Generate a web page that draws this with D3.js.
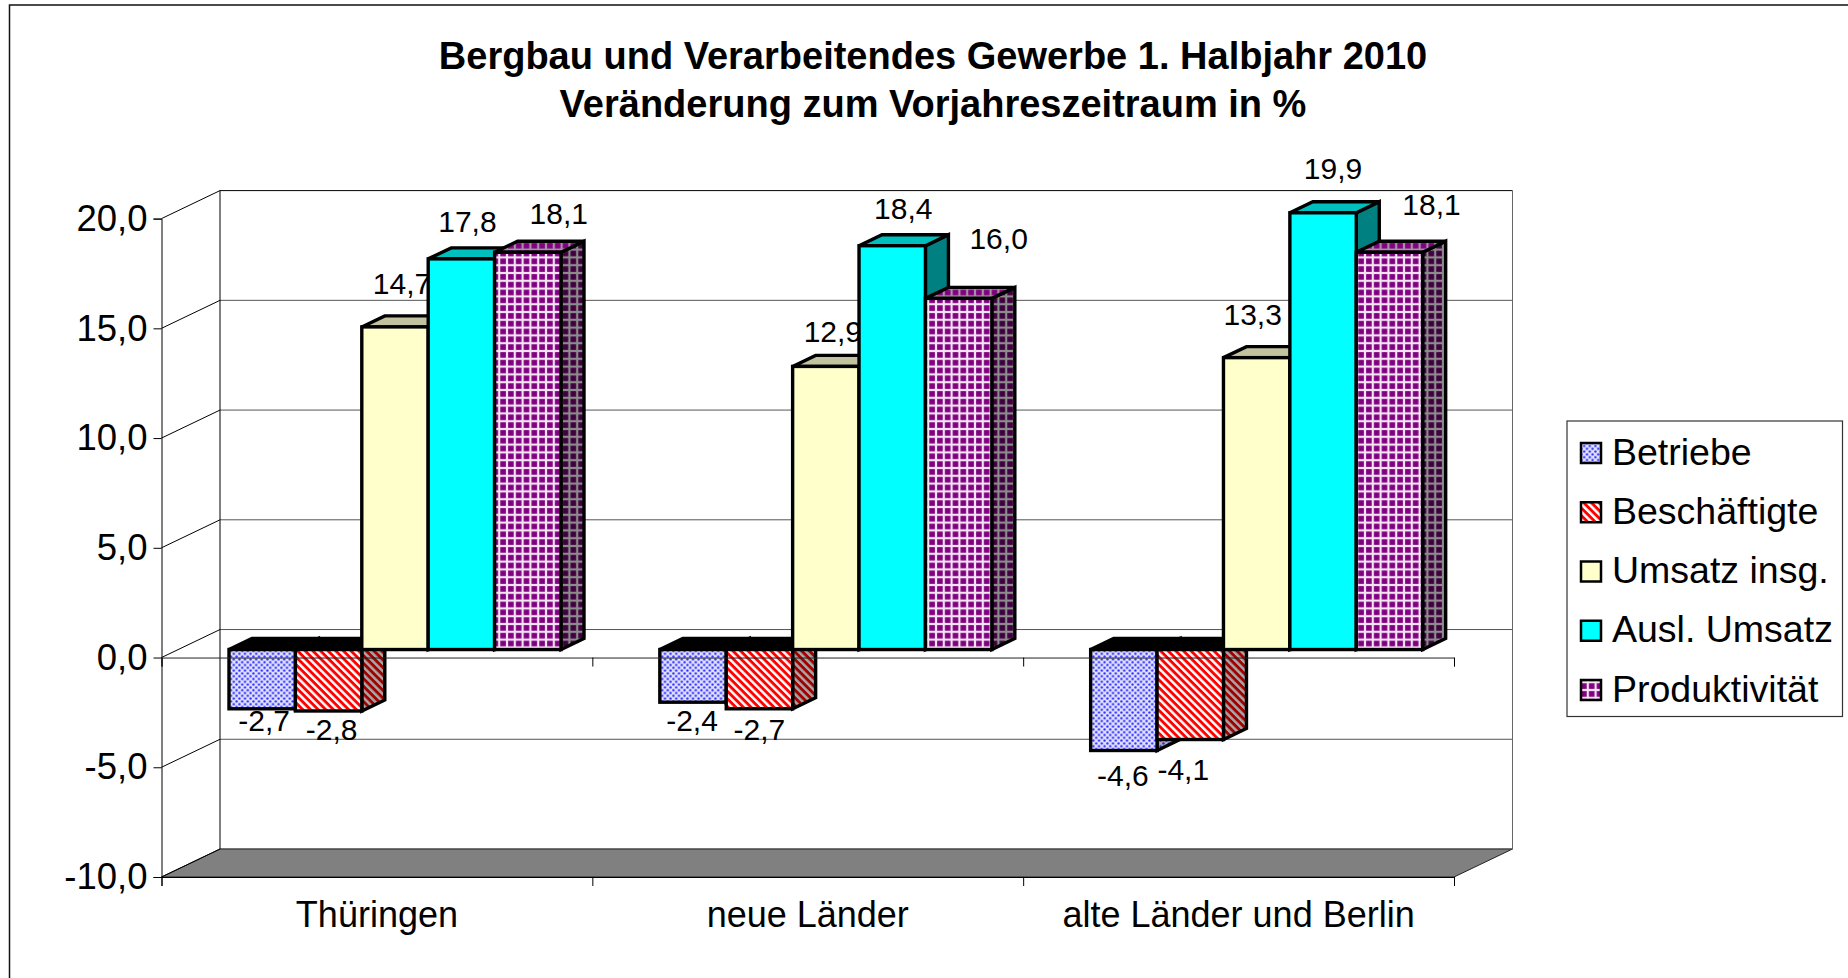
<!DOCTYPE html>
<html>
<head>
<meta charset="utf-8">
<script src="https://cdn.jsdelivr.net/npm/d3@7"></script>
<style>
  html, body { margin: 0; padding: 0; background: #fff; }
  svg { display: block; }
  text { font-family: "Liberation Sans", Arial, sans-serif; fill: #000; }
</style>
</head>
<body>
<div id="container"></div>
<script>
// data we work with
let categories = ["Thüringen", "neue Länder", "alte Länder und Berlin"];
let seriesNames = ["Betriebe", "Beschäftigte", "Umsatz insg.", "Ausl. Umsatz", "Produktivität"];
let betriebe = [-2.7, -2.4, -4.6];
let beschaeftigte = [-2.8, -2.7, -4.1];
let umsatz = [14.7, 12.9, 13.3];
let auslUmsatz = [17.8, 18.4, 19.9];
let produktivitaet = [18.1, 16.0, 18.1];
let seriesValues = [betriebe, beschaeftigte, umsatz, auslUmsatz, produktivitaet];
let yTicks = [-10, -5, 0, 5, 10, 15, 20];
let titleLines = ["Bergbau und Verarbeitendes Gewerbe 1. Halbjahr 2010", "Veränderung zum Vorjahreszeitraum in %"];

// excel put the data labels by hand, so nudge each one from its bar [dx, dy]
let labelNudge = [
  [[2, 22.5], [-1, 29], [-1, 36]],
  [[3, 29], [0, 31.5], [-7, 40]],
  [[7, -33], [7, -24], [-4, -32.5]],
  [[6, -27], [11, -27], [10, -34]],
  [[31, -28], [40, -49], [42, -37]]
];

let w = 1848;
let h = 978;
let viz = d3.select("#container")
  .append("svg")
    .attr("width", w)
    .attr("height", h)
;

// front plane of the chart and the 3d offsets
let frontLeft = 161.5;
let frontRight = 1454;
let wallDx = 58.5;
let wallDy = -28;
let barInset = 67.5;
let barW = 66.4;
let barPlaneDy = -8;
let sideDx = 23;
let sideDy = -11;

let yScale = d3.scaleLinear().domain([-10, 20]).range([877, 218.6]);
let xCat = d3.scaleBand().domain(categories).range([frontLeft, frontRight]);
let xEdge = d3.scaleLinear().domain([0, categories.length]).range([frontLeft, frontRight]);
let xSeries = d3.scaleBand().domain(seriesNames).range([0, barW * seriesNames.length]);

let num = d3.formatLocale({decimal: ",", thousands: ".", grouping: [3], currency: ["", ""], minus: "-"}).format(".1f");

// patterns
let defs = viz.append("defs");

function dotPattern(id, bg, dot) {
  let p = defs.append("pattern").attr("id", id).attr("patternUnits", "userSpaceOnUse")
    .attr("width", 5.6).attr("height", 5.6);
  p.append("rect").attr("width", 5.6).attr("height", 5.6).attr("fill", bg);
  p.append("circle").attr("cx", 1.4).attr("cy", 1.4).attr("r", 1.2).attr("fill", dot);
  p.append("circle").attr("cx", 4.2).attr("cy", 4.2).attr("r", 1.2).attr("fill", dot);
}
function stripePattern(id, bg, stripe) {
  let p = defs.append("pattern").attr("id", id).attr("patternUnits", "userSpaceOnUse")
    .attr("width", 5.4).attr("height", 5.4)
    .attr("patternTransform", "rotate(45)");
  p.append("rect").attr("width", 5.4).attr("height", 5.4).attr("fill", bg);
  p.append("rect").attr("width", 5.4).attr("height", 2.9).attr("fill", stripe);
}
function gridPattern(id, bg, line) {
  let p = defs.append("pattern").attr("id", id).attr("patternUnits", "userSpaceOnUse")
    .attr("width", 7.8).attr("height", 7.8);
  p.append("rect").attr("width", 7.8).attr("height", 7.8).attr("fill", line);
  p.append("rect").attr("x", 1.1).attr("y", 1.1).attr("width", 5.6).attr("height", 5.6).attr("fill", bg);
}
dotPattern("dots", "#e0e0ff", "#2c2cff");
dotPattern("dotsSide", "#a8a8c8", "#2828a8");
stripePattern("stripes", "#fff", "#ff0000");
stripePattern("stripesSide", "#a8a8a8", "#a00000");
gridPattern("grid", "#800080", "#f4e4f4");
gridPattern("gridTop", "#800080", "#a890a8");
gridPattern("gridSide", "#400040", "#8c8c8c");

let fronts = ["url(#dots)", "url(#stripes)", "#ffffcc", "#00ffff", "url(#grid)"];
let tops = ["#000", "#000", "#c2c29f", "#00bfbf", "url(#gridTop)"];
let sides = ["url(#dotsSide)", "url(#stripesSide)", "#bfbf99", "#008080", "url(#gridSide)"];

// outer border, runs off the picture on the right and the bottom
viz.append("path")
  .attr("d", "M9.5," + h + "V5H" + w)
  .attr("fill", "none").attr("stroke", "#111").attr("stroke-width", 1.5);

// title
viz.append("g").selectAll("text").data(titleLines).join("text")
  .attr("x", 933)
  .attr("y", function(d, i){ return 69 + i * 47.5; })
  .attr("text-anchor", "middle")
  .attr("font-size", 38)
  .attr("font-weight", "bold")
  .text(function(d){ return d; });

// floor
viz.append("polygon")
  .attr("points", [
    [frontLeft, yScale(-10)],
    [frontLeft + wallDx, yScale(-10) + wallDy],
    [frontRight + wallDx, yScale(-10) + wallDy],
    [frontRight, yScale(-10)]
  ].join(" "))
  .attr("fill", "#808080").attr("stroke", "#222").attr("stroke-width", 1);

// back wall gridlines and the slanted lines on the left wall
let walls = viz.append("g").attr("fill", "none");
walls.selectAll("line.grid").data(yTicks).join("line").attr("class", "grid")
  .attr("x1", frontLeft + wallDx).attr("x2", frontRight + wallDx)
  .attr("y1", function(d){ return yScale(d) + wallDy; })
  .attr("y2", function(d){ return yScale(d) + wallDy; })
  .attr("stroke", function(d){ return d == 20 ? "#000" : "#555"; });
walls.selectAll("line.slant").data(yTicks).join("line").attr("class", "slant")
  .attr("x1", frontLeft).attr("x2", frontLeft + wallDx)
  .attr("y1", function(d){ return yScale(d); })
  .attr("y2", function(d){ return yScale(d) + wallDy; })
  .attr("stroke", "#000");
walls.append("line")
  .attr("x1", frontLeft + wallDx).attr("x2", frontLeft + wallDx)
  .attr("y1", yScale(20) + wallDy).attr("y2", yScale(-10) + wallDy)
  .attr("stroke", "#000");
walls.append("line")
  .attr("x1", frontRight + wallDx).attr("x2", frontRight + wallDx)
  .attr("y1", yScale(20) + wallDy).attr("y2", yScale(-10) + wallDy)
  .attr("stroke", "#666");

// y axis
let yAxis = d3.axisLeft(yScale).tickValues(yTicks).tickSize(8).tickFormat(num);
let yAxisGroup = viz.append("g").attr("transform", "translate(" + frontLeft + ",0)").call(yAxis);
yAxisGroup.selectAll("text").attr("font-size", 36.5).attr("x", -14);

// bottom axis: ticks between the categories
let edgeTicks = d3.range(categories.length + 1);
let bottomAxis = d3.axisBottom(xEdge).tickValues(edgeTicks).tickSize(9).tickFormat("");
viz.append("g").attr("transform", "translate(0," + yScale(-10) + ")").call(bottomAxis);

let catAxis = d3.axisBottom(xCat).tickSize(0);
let catAxisGroup = viz.append("g").attr("transform", "translate(0," + yScale(-10) + ")").call(catAxis);
catAxisGroup.select(".domain").remove();
catAxisGroup.selectAll("text").attr("font-size", 36).attr("y", 24.5);

// one row per bar, in the order excel paints them
let rows = [];
categories.forEach(function(c, ci){
  seriesNames.forEach(function(s, si){
    rows.push({cat: c, ci: ci, series: s, si: si, value: seriesValues[si][ci]});
  });
});

function getX(d){ return xCat(d.cat) + barInset + xSeries(d.series); }
function getBase(){ return yScale(0) + barPlaneDy; }
function getEnd(d){ return yScale(d.value) + barPlaneDy; }
function getTop(d){ return Math.min(getBase(), getEnd(d)); }
function getBottom(d){ return Math.max(getBase(), getEnd(d)); }

function topFace(d){
  let p = d3.path(), x = getX(d), y = getTop(d);
  p.moveTo(x, y);
  p.lineTo(x + sideDx, y + sideDy);
  p.lineTo(x + barW + sideDx, y + sideDy);
  p.lineTo(x + barW, y);
  p.closePath();
  return p.toString();
}
function sideFace(d){
  let p = d3.path(), x = getX(d) + barW;
  p.moveTo(x, getTop(d));
  p.lineTo(x + sideDx, getTop(d) + sideDy);
  p.lineTo(x + sideDx, getBottom(d) + sideDy);
  p.lineTo(x, getBottom(d));
  p.closePath();
  return p.toString();
}

let bars = viz.append("g").selectAll("g").data(rows).join("g")
  .attr("stroke", "#000").attr("stroke-width", 3.4).attr("stroke-linejoin", "miter");

bars.append("path").attr("d", sideFace).attr("fill", function(d){ return sides[d.si]; });
bars.append("path").attr("d", topFace).attr("fill", function(d){ return tops[d.si]; });
bars.append("rect")
  .attr("x", getX)
  .attr("y", getTop)
  .attr("width", barW)
  .attr("height", function(d){ return getBottom(d) - getTop(d); })
  .attr("fill", function(d){ return fronts[d.si]; });

// label sits inside the bar's group so the next bar can cover it, like 14,7 in the original
bars.append("text")
  .attr("stroke", "none")
  .attr("text-anchor", "middle")
  .attr("font-size", 30)
  .attr("x", function(d){ return getX(d) + barW / 2 + labelNudge[d.si][d.ci][0]; })
  .attr("y", function(d){ return getEnd(d) + labelNudge[d.si][d.ci][1]; })
  .text(function(d){ return num(d.value); });

// zero axis comes last, it runs across the negative bars
let zeroAxis = d3.axisBottom(xEdge).tickValues(edgeTicks).tickSize(9).tickFormat("");
let zeroGroup = viz.append("g").attr("transform", "translate(0," + yScale(0) + ")").call(zeroAxis);
zeroGroup.select(".domain").attr("stroke", "#222");

// legend
let legend = viz.append("g");
legend.append("rect")
  .attr("x", 1567).attr("y", 421).attr("width", 275.5).attr("height", 295.5)
  .attr("fill", "#fff").attr("stroke", "#333").attr("stroke-width", 1.2);
let legendY = d3.scalePoint().domain(seriesNames).range([453, 690]);
let legendRows = legend.selectAll("g").data(seriesNames).join("g")
  .attr("transform", function(d){ return "translate(1580," + legendY(d) + ")"; });
legendRows.append("rect")
  .attr("x", 1).attr("y", -10).attr("width", 20).attr("height", 20)
  .attr("fill", function(d, i){ return fronts[i]; })
  .attr("stroke", "#000").attr("stroke-width", 2.5);
legendRows.append("text")
  .attr("x", 32).attr("y", 11.5)
  .attr("font-size", 37.5)
  .text(function(d){ return d; });
</script>
</body>
</html>
